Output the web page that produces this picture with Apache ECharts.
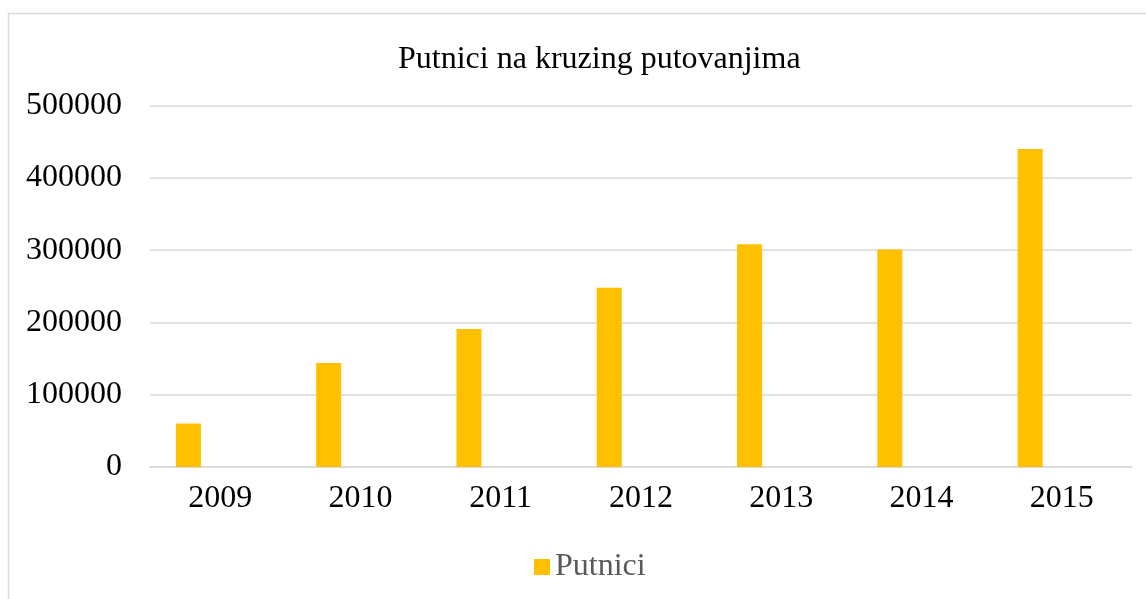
<!DOCTYPE html>
<html>
<head>
<meta charset="utf-8">
<script src="https://cdn.jsdelivr.net/npm/echarts@6/dist/echarts.min.js"></script>
<style>
  html, body { margin: 0; padding: 0; background: #fff; }
  #chart { width: 1146px; height: 599px; }
</style>
</head>
<body>
<div id="chart"></div>
<script>
const years = ["2009", "2010", "2011", "2012", "2013", "2014", "2015"];
const putnici = [60000, 144000, 191000, 248000, 308000, 301000, 440000];
const empty = ["-", "-", "-", "-", "-", "-", "-"];

const chart = echarts.init(document.getElementById("chart"));
const font = "'Liberation Serif', 'Times New Roman', serif";

chart.setOption({
  animation: false,
  textStyle: { fontFamily: font },
  title: {
    text: "Putnici na kruzing putovanjima",
    left: 393,
    top: 39,
    textStyle: { fontFamily: font, fontSize: 32, fontWeight: "normal", color: "#000" }
  },
  graphic: [{
    type: "rect",
    shape: { x: 8.5, y: 13.5, width: 1170, height: 620 },
    style: { fill: "none", stroke: "#d9d9d9", lineWidth: 1.5 },
    silent: true
  }],
  legend: {
    data: ["Putnici"],
    bottom: 11,
    left: 529,
    itemWidth: 16,
    itemHeight: 16,
    itemGap: 6,
    icon: "rect",
    textStyle: { fontFamily: font, fontSize: 32, color: "#595959" }
  },
  grid: { left: 150, right: 14, top: 105.5, bottom: 132 },
  xAxis: {
    type: "category",
    data: years,
    axisTick: { show: false },
    axisLine: { lineStyle: { color: "#d9d9d9", width: 1.5 } },
    axisLabel: { fontFamily: font, fontSize: 32, color: "#000", margin: 16 }
  },
  yAxis: {
    type: "value",
    min: 0,
    max: 500000,
    interval: 100000,
    axisLine: { show: false },
    axisTick: { show: false },
    splitLine: { lineStyle: { color: "#d9d9d9", width: 1.5 } },
    axisLabel: {
      fontFamily: font, fontSize: 32, color: "#000", margin: 28,
      formatter: v => String(v)
    }
  },
  series: [
    {
      name: "Putnici",
      type: "bar",
      data: putnici,
      barWidth: 25,
      barGap: "154%",
      itemStyle: { color: "#FFC000" }
    },
    {
      name: "",
      type: "bar",
      data: empty,
      barWidth: 25
    }
  ]
});
</script>
</body>
</html>
